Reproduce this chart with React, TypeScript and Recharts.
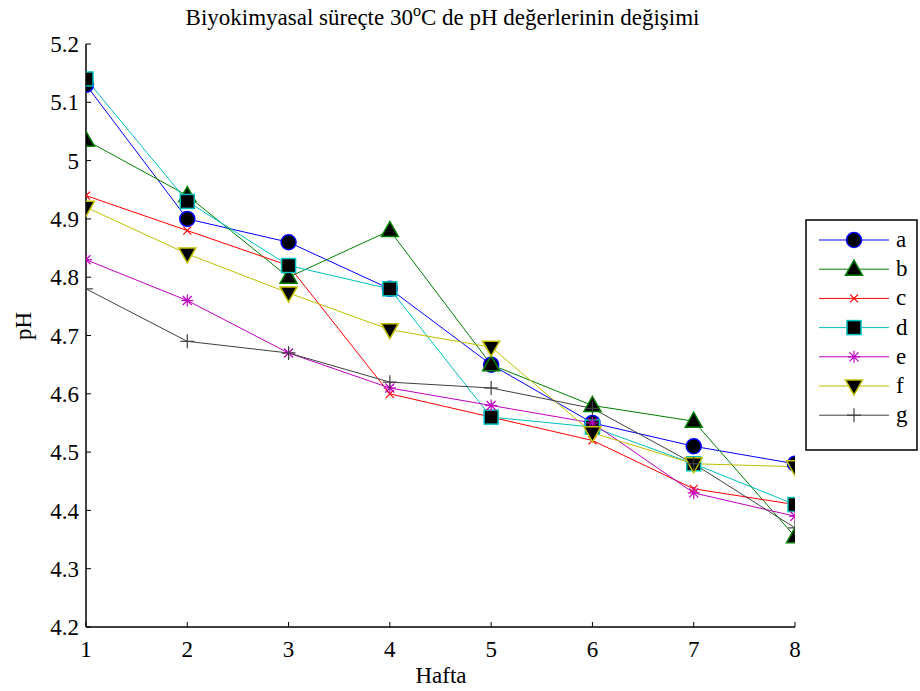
import React from "react";
import { LineChart, Line, XAxis, YAxis } from "recharts";

// pH readings per week (Hafta)
const weeks = [1, 2, 3, 4, 5, 6, 7, 8];
const phA = [5.13, 4.9, 4.86, 4.78, 4.65, 4.55, 4.51, 4.48];
const phB = [5.035, 4.94, 4.8, 4.88, 4.65, 4.58, 4.553, 4.355];
const phC = [4.94, 4.88, 4.82, 4.6, 4.56, 4.52, 4.437, 4.41];
const phD = [5.14, 4.93, 4.82, 4.78, 4.56, 4.543, 4.48, 4.41];
const phE = [4.83, 4.76, 4.67, 4.61, 4.58, 4.55, 4.43, 4.39];
const phF = [4.92, 4.84, 4.773, 4.71, 4.68, 4.533, 4.48, 4.475];
const phG = [4.78, 4.69, 4.67, 4.62, 4.61, 4.575, 4.48, 4.37];

const seriesNames = ["a", "b", "c", "d", "e", "f", "g"];
const xTicks = [1, 2, 3, 4, 5, 6, 7, 8];
const yTicks = [4.2, 4.3, 4.4, 4.5, 4.6, 4.7, 4.8, 4.9, 5.0, 5.1, 5.2];

const allSeries = [phA, phB, phC, phD, phE, phF, phG];

const rows = weeks.map((w, i) => {
  const r: Record<string, number> = { week: w };
  seriesNames.forEach((n, k) => (r[n] = allSeries[k][i]));
  return r;
});

type Shape = "circle" | "up" | "x" | "square" | "star" | "down" | "plus";

const styles: { key: string; color: string; shape: Shape }[] = [
  { key: "a", color: "#0000ff", shape: "circle" },
  { key: "b", color: "#008000", shape: "up" },
  { key: "c", color: "#ff0000", shape: "x" },
  { key: "d", color: "#00bfbf", shape: "square" },
  { key: "e", color: "#bf00bf", shape: "star" },
  { key: "f", color: "#bfbf00", shape: "down" },
  { key: "g", color: "#404040", shape: "plus" },
];

const FONT = '"Liberation Serif", "Times New Roman", serif';
const FS = 23;

function Marker({ shape, cx, cy, color }: { shape: Shape; cx: number; cy: number; color: string }) {
  if (cx == null || cy == null) return null;
  switch (shape) {
    case "circle":
      return <circle cx={cx} cy={cy} r={7.5} fill="#000" stroke={color} strokeWidth={1.5} />;
    case "up":
      return (
        <polygon
          points={`${cx},${cy - 9} ${cx - 8.5},${cy + 6} ${cx + 8.5},${cy + 6}`}
          fill="#000"
          stroke={color}
          strokeWidth={1.5}
        />
      );
    case "down":
      return (
        <polygon
          points={`${cx - 8.5},${cy - 6} ${cx + 8.5},${cy - 6} ${cx},${cy + 9}`}
          fill="#000"
          stroke={color}
          strokeWidth={1.5}
        />
      );
    case "square":
      return <rect x={cx - 7} y={cy - 7} width={14} height={14} fill="#000" stroke={color} strokeWidth={1.5} />;
    case "x":
      return (
        <g stroke={color} strokeWidth={1.2}>
          <line x1={cx - 4} y1={cy - 4} x2={cx + 4} y2={cy + 4} />
          <line x1={cx - 4} y1={cy + 4} x2={cx + 4} y2={cy - 4} />
        </g>
      );
    case "star":
      return (
        <g stroke={color} strokeWidth={1.2}>
          <line x1={cx - 6} y1={cy} x2={cx + 6} y2={cy} />
          <line x1={cx} y1={cy - 6} x2={cx} y2={cy + 6} />
          <line x1={cx - 4.5} y1={cy - 4.5} x2={cx + 4.5} y2={cy + 4.5} />
          <line x1={cx - 4.5} y1={cy + 4.5} x2={cx + 4.5} y2={cy - 4.5} />
        </g>
      );
    case "plus":
      return (
        <g stroke={color} strokeWidth={1.2}>
          <line x1={cx - 7} y1={cy} x2={cx + 7} y2={cy} />
          <line x1={cx} y1={cy - 7} x2={cx} y2={cy + 7} />
        </g>
      );
  }
  return null;
}

function LegendBox() {
  const rowH = 29.2;
  return (
    <svg width={114} height={233} style={{ position: "absolute", left: 805, top: 219, display: "block" }}>
      <rect x={1} y={1} width={111} height={230} fill="#fff" stroke="#000" strokeWidth={1.5} />
      {styles.map((s, i) => {
        const y = 21 + i * rowH;
        return (
          <g key={s.key}>
            <line x1={14} y1={y} x2={84} y2={y} stroke={s.color} strokeWidth={1} />
            <Marker shape={s.shape} cx={49} cy={y} color={s.color} />
            <text x={91} y={y + 7} fontFamily={FONT} fontSize={FS} fill="#000">
              {s.key}
            </text>
          </g>
        );
      })}
    </svg>
  );
}

const fmt = (v: number) => String(Number(v.toFixed(1)));
const blank = () => "";

export default function App() {
  return (
    <div style={{ position: "absolute", left: 0, top: 0, width: 920, height: 691, background: "#fff" }}>
      <LineChart
        width={920}
        height={691}
        data={rows}
        margin={{ top: 44, right: 125, bottom: 34, left: 46 }}
        style={{ position: "absolute", left: 0, top: 0 }}
      >
        <XAxis
          dataKey="week"
          type="number"
          domain={[1, 8]}
          ticks={xTicks}
          allowDataOverflow
          height={30}
          tickSize={-5}
          tickMargin={19}
          axisLine={{ stroke: "#000", strokeWidth: 1.5 }}
          tickLine={{ stroke: "#000" }}
          tick={{ fill: "#000", fontFamily: FONT, fontSize: FS }}
        />
        <XAxis
          xAxisId="top"
          orientation="top"
          dataKey="week"
          type="number"
          domain={[1, 8]}
          ticks={xTicks}
          allowDataOverflow
          height={0}
          tickSize={-5}
          tickFormatter={blank}
          axisLine={{ stroke: "#000", strokeWidth: 1.5 }}
          tickLine={{ stroke: "#000" }}
        />
        <YAxis
          type="number"
          domain={[4.2, 5.2]}
          ticks={yTicks}
          allowDataOverflow
          width={40}
          tickSize={-5}
          tickMargin={12}
          tickFormatter={fmt}
          axisLine={{ stroke: "#000", strokeWidth: 1.5 }}
          tickLine={{ stroke: "#000" }}
          tick={{ fill: "#000", fontFamily: FONT, fontSize: FS }}
        />
        <YAxis
          yAxisId="right"
          orientation="right"
          type="number"
          domain={[4.2, 5.2]}
          ticks={yTicks}
          allowDataOverflow
          width={0}
          tickSize={-5}
          tickFormatter={blank}
          axisLine={{ stroke: "#000", strokeWidth: 1.5 }}
          tickLine={{ stroke: "#000" }}
        />
        {styles.map((s) => (
          <Line
            key={s.key}
            dataKey={s.key}
            name={s.key}
            stroke={s.color}
            strokeWidth={1}
            isAnimationActive={false}
            dot={(p: any) => (
              <Marker key={`${s.key}-${p.index}`} shape={s.shape} cx={p.cx} cy={p.cy} color={s.color} />
            )}
            activeDot={false}
          />
        ))}
      </LineChart>
      <div
        style={{
          position: "absolute",
          left: 0,
          width: 885,
          top: 4,
          textAlign: "center",
          fontFamily: FONT,
          fontSize: FS,
          color: "#000",
          lineHeight: "28px",
        }}
      >
        Biyokimyasal süreçte 30<sup style={{ fontSize: 16, lineHeight: 0 }}>o</sup>C de pH değerlerinin değişimi
      </div>
      <div
        style={{
          position: "absolute",
          left: 0,
          width: 882,
          top: 662,
          textAlign: "center",
          fontFamily: FONT,
          fontSize: FS,
          color: "#000",
          lineHeight: "28px",
        }}
      >
        Hafta
      </div>
      <div
        style={{
          position: "absolute",
          left: 24,
          top: 326,
          transform: "translate(-50%, -50%) rotate(-90deg)",
          fontFamily: FONT,
          fontSize: FS,
          color: "#000",
          lineHeight: "28px",
        }}
      >
        pH
      </div>
      <LegendBox />
    </div>
  );
}
